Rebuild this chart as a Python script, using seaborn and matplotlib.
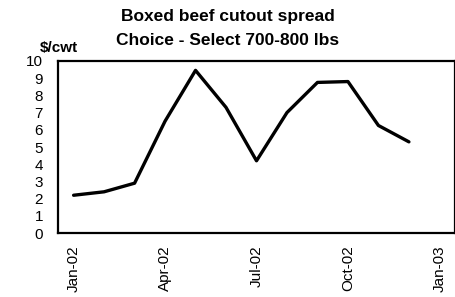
import numpy as np
import pandas as pd
import matplotlib
matplotlib.use("Agg")
import matplotlib.pyplot as plt
import seaborn as sns

# monthly spread, $/cwt (Jan-02 .. Dec-02)
months = ["Jan-02", "Feb-02", "Mar-02", "Apr-02", "May-02", "Jun-02",
          "Jul-02", "Aug-02", "Sep-02", "Oct-02", "Nov-02", "Dec-02", "Jan-03"]
spread = [2.2, 2.4, 2.9, 6.5, 9.45, 7.3, 4.2, 7.0, 8.75, 8.8, 6.25, 5.3]
tick_labels = ["Jan-02", "Apr-02", "Jul-02", "Oct-02", "Jan-03"]

sns.set_style("white", {"text.color": "black", "xtick.color": "black",
                        "ytick.color": "black", "axes.labelcolor": "black"})
plt.rcParams['font.family'] = ['Liberation Sans', 'DejaVu Sans']

df = pd.DataFrame({"pos": np.arange(len(spread)), "spread": spread})

fig = plt.figure(figsize=(4.56, 2.97), dpi=100)
ax = fig.add_axes([0.128, 0.215, 0.869, 0.58])
sns.lineplot(data=df, x="pos", y="spread", color="black", lw=2.4, ax=ax)

ax.set_xlim(-0.5, len(months) - 0.5)
ax.set_ylim(0, 10)
ax.set_yticks(range(0, 11))
ax.set_xticks([months.index(m) for m in tick_labels])
ax.set_xticklabels(tick_labels, rotation=90)
ax.set_xticks(np.arange(-0.5, len(months)), minor=True)
ax.tick_params(axis="x", which="major", length=0, pad=9, labelsize=11)
ax.tick_params(axis="x", which="minor", length=4, direction="in", width=1.2)
ax.tick_params(axis="y", length=4, direction="in", width=1.2, labelsize=11, pad=11)
ax.set_xlabel("")
ax.set_ylabel("")
for s in ax.spines.values():
    s.set_color("black")
    s.set_linewidth(1.6)

fig.text(0.5, 0.945, "Boxed beef cutout spread", ha="center", va="center",
         fontsize=12.5, fontweight="bold", color="black")
fig.text(0.5, 0.865, "Choice - Select 700-800 lbs", ha="center", va="center",
         fontsize=12.5, fontweight="bold", color="black")
fig.text(0.087, 0.838, "$/cwt", ha="left", va="center", fontsize=11,
         fontweight="bold", color="black")

fig.savefig("out.png", dpi=100)
